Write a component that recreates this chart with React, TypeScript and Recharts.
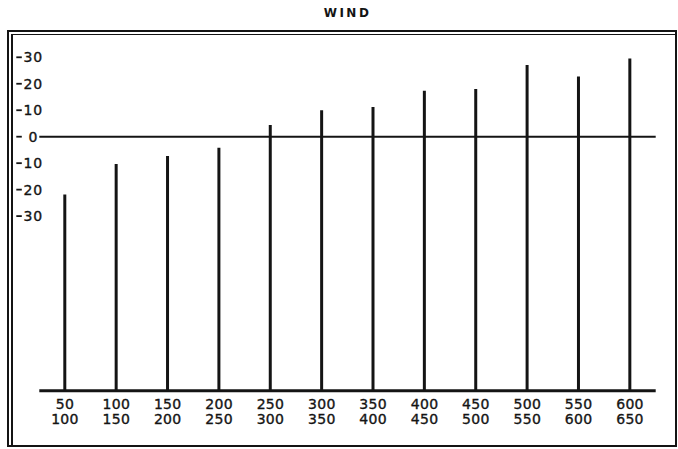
import React from "react";
import { BarChart, Bar, XAxis, YAxis, ReferenceLine } from "recharts";

// wind speed classes (lower / upper bound) and the reading for each class
const rangeLow = [50, 100, 150, 200, 250, 300, 350, 400, 450, 500, 550, 600];
const rangeHigh = [100, 150, 200, 250, 300, 350, 400, 450, 500, 550, 600, 650];
const windValues = [-21.8, -10.3, -7.3, -4.2, 4.4, 10, 11.2, 17.4, 18, 27.1, 22.7, 29.5];
const yTicks = [-30, -20, -10, 0, 10, 20, 30];
const baseValue = -96;

const data = rangeLow.map((lo, i) => ({
  name: `${lo}-${rangeHigh[i]}`,
  lo,
  hi: rangeHigh[i],
  wind: [baseValue, windValues[i]],
}));

const INK = "#141414";
const FONT = "'DejaVu Sans', sans-serif";

const XTick = ({ x, y, payload }: any) => {
  const row = data.find((d) => d.name === payload.value);
  if (!row) return null;
  return (
    <g fontSize={14} letterSpacing={0.3} fill={INK} stroke={INK} strokeWidth={0.35} fontFamily={FONT}>
      <text x={x} y={y + 18.5} textAnchor="middle">
        {row.lo}
      </text>
      <text x={x} y={y + 33} textAnchor="middle">
        {row.hi}
      </text>
    </g>
  );
};

const YTick = ({ x, y, payload }: any) => (
  <g>
    <line x1={x - 23} x2={x - 17.5} y1={y} y2={y} stroke={INK} strokeWidth={1.8} />
    <text
      x={x - 6}
      y={y + 5}
      textAnchor="middle"
      fontSize={14}
      letterSpacing={0.8}
      fill={INK}
      stroke={INK}
      strokeWidth={0.35}
      fontFamily={FONT}
    >
      {Math.abs(payload.value)}
    </text>
  </g>
);

export default function App() {
  return (
    <div style={{ position: "absolute", left: 0, top: 0, width: 678, height: 449, background: "#fff" }}>
      <div
        style={{
          position: "absolute",
          top: 6,
          left: 0,
          width: 695,
          textAlign: "center",
          fontFamily: FONT,
          fontWeight: "bold",
          fontSize: 12,
          letterSpacing: 2.5,
          color: INK,
        }}
      >
        WIND
      </div>
      <div
        style={{
          position: "absolute",
          left: 7,
          top: 30,
          width: 670,
          height: 417,
          boxSizing: "border-box",
          border: `2px solid ${INK}`,
        }}
      />
      <div style={{ position: "absolute", left: 11, top: 34, width: 1.5, height: 412, background: INK }} />
      <div style={{ position: "absolute", left: 11, top: 34, width: 664, height: 1.2, background: INK }} />
      <div style={{ position: "absolute", left: 0, top: 0 }}>
        <BarChart
          width={678}
          height={449}
          data={data}
          margin={{ top: 46.7, right: 22.3, bottom: 28.2, left: 0 }}
        >
          <XAxis
            dataKey="name"
            height={30}
            tick={<XTick />}
            tickLine={false}
            tickSize={0}
            tickMargin={0}
            axisLine={{ stroke: INK, strokeWidth: 3 }}
            interval={0}
          />
          <YAxis
            type="number"
            domain={[baseValue, 34]}
            ticks={yTicks}
            width={39.3}
            tick={<YTick />}
            tickLine={false}
            tickSize={0}
            tickMargin={0}
            axisLine={false}
            allowDataOverflow
          />
          <ReferenceLine y={0} stroke={INK} strokeWidth={2} />
          <Bar dataKey="wind" fill={INK} barSize={3} isAnimationActive={false} />
        </BarChart>
      </div>
    </div>
  );
}
